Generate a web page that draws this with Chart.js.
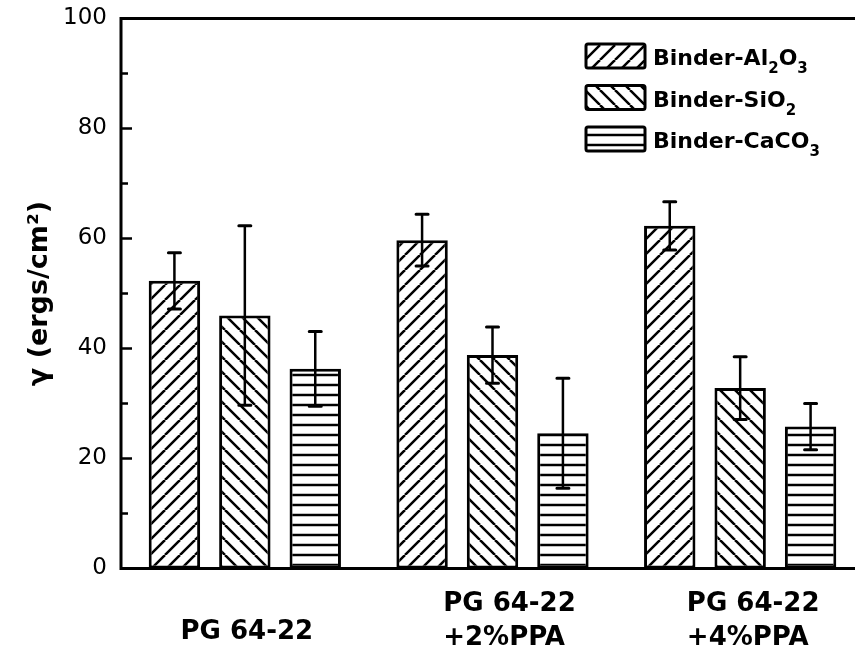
<!DOCTYPE html>
<html>
<head>
<meta charset="utf-8">
<script src="https://cdn.jsdelivr.net/npm/chart.js@4.4.1/dist/chart.umd.min.js"></script>
<style>
  html, body { margin: 0; padding: 0; background: #fff; overflow: hidden; }
  #wrap { position: relative; width: 866px; height: 662px; }
</style>
</head>
<body>
<div id="wrap"><canvas id="myChart"></canvas></div>
<script>
  // Categories (multi-line x labels)
  const categories = [['PG 64-22'], ['PG 64-22', '+2%PPA'], ['PG 64-22', '+4%PPA']];
  const seriesNames = ['Binder-Al2O3', 'Binder-SiO2', 'Binder-CaCO3'];

  // Surface energy values and their error bars
  const al2o3 = [52.3, 59.7, 62.3];
  const al2o3Err = [5.1, 4.7, 4.4];
  const sio2 = [46.0, 38.8, 32.8];
  const sio2Err = [16.3, 5.1, 5.7];
  const caco3 = [36.3, 24.6, 25.8];
  const caco3Err = [6.8, 10.0, 4.2];

  const yTicks = [0, 20, 40, 60, 80, 100];

  // legend text pieces: [text, isSubscript]
  const legendParts = [
    [['Binder-Al', 0], ['2', 1], ['O', 0], ['3', 1]],
    [['Binder-SiO', 0], ['2', 1]],
    [['Binder-CaCO', 0], ['3', 1]]
  ];

  // small horizontal nudges for the x label blocks
  const labelNudge = [2, 17, 13];

  const FONT = '"DejaVu Sans", Arial, sans-serif';

  /**
   * Build a black hatch pattern: '/', '\' or horizontal lines
   */
  const makePattern = (kind) => {
    const s = kind === 'h' ? 10 : 15;
    const c = document.createElement('canvas');
    c.width = s;
    c.height = s;
    const g = c.getContext('2d');
    g.fillStyle = '#fff';
    g.fillRect(0, 0, s, s);
    g.strokeStyle = '#000';
    g.lineWidth = 2.5;
    g.beginPath();
    if (kind === 'h') {
      g.moveTo(0, s / 2);
      g.lineTo(s, s / 2);
    } else {
      for (let k = -1; k <= 1; k++) {
        const x0 = k * s;
        if (kind === 'f') {
          g.moveTo(x0, s);
          g.lineTo(x0 + s, 0);
        } else {
          g.moveTo(x0, 0);
          g.lineTo(x0 + s, s);
        }
      }
    }
    g.stroke();
    return g.createPattern(c, 'repeat');
  };

  const patterns = [makePattern('f'), makePattern('b'), makePattern('h')];
  const errors = [al2o3Err, sio2Err, caco3Err];

  // Error bars on top of the bars
  const errorBarPlugin = {
    id: 'errorBars',
    afterDatasetsDraw(chart) {
      const { ctx } = chart;
      const y = chart.scales.y;
      ctx.save();
      ctx.strokeStyle = '#000';
      chart.data.datasets.forEach((ds, i) => {
        const meta = chart.getDatasetMeta(i);
        meta.data.forEach((bar, j) => {
          const v = ds.data[j];
          const e = errors[i][j];
          const yt = y.getPixelForValue(v + e);
          const yb = y.getPixelForValue(v - e);
          ctx.lineWidth = 2.5;
          ctx.beginPath();
          ctx.moveTo(bar.x, yt);
          ctx.lineTo(bar.x, yb);
          ctx.stroke();
          ctx.lineWidth = 3;
          ctx.lineCap = 'round';
          ctx.beginPath();
          ctx.moveTo(bar.x - 6, yt);
          ctx.lineTo(bar.x + 6, yt);
          ctx.moveTo(bar.x - 6, yb);
          ctx.lineTo(bar.x + 6, yb);
          ctx.stroke();
          ctx.lineCap = 'butt';
        });
      });
      ctx.restore();
    }
  };

  // Frame, inward ticks, x labels and legend
  const decorPlugin = {
    id: 'decor',
    afterDraw(chart) {
      const { ctx, chartArea: a } = chart;
      const y = chart.scales.y;
      const x = chart.scales.x;
      ctx.save();
      ctx.strokeStyle = '#000';
      ctx.lineWidth = 3;
      ctx.strokeRect(a.left, a.top, a.right - a.left, a.bottom - a.top);

      // inward ticks, minor every 10
      ctx.lineWidth = 2.5;
      ctx.beginPath();
      for (let v = 0; v <= 100; v += 10) {
        const py = y.getPixelForValue(v);
        const len = v % 20 === 0 ? 11 : 7;
        ctx.moveTo(a.left, py);
        ctx.lineTo(a.left + len, py);
      }
      ctx.stroke();

      // x labels
      ctx.fillStyle = '#000';
      ctx.font = 'bold 26px ' + FONT;
      ctx.textAlign = 'left';
      ctx.textBaseline = 'alphabetic';
      categories.forEach((lines, i) => {
        const px = x.getPixelForValue(i) + labelNudge[i];
        const w = Math.max(...lines.map(t => ctx.measureText(t).width));
        const left = px - w / 2;
        if (lines.length === 1) {
          ctx.fillText(lines[0], left, a.bottom + 70.5);
        } else {
          lines.forEach((t, k) => ctx.fillText(t, left, a.bottom + 42.5 + k * 34));
        }
      });

      // legend
      legendParts.forEach((parts, i) => {
        const by = 44 + i * 41.5;
        ctx.fillStyle = patterns[i];
        ctx.beginPath();
        ctx.roundRect(586, by, 59, 24, 2);
        ctx.fill();
        ctx.lineWidth = 3;
        ctx.stroke();
        let tx = 653;
        const base = by + 21;
        ctx.fillStyle = '#000';
        parts.forEach(([t, sub]) => {
          ctx.font = sub ? 'bold 15px ' + FONT : 'bold 22px ' + FONT;
          ctx.fillText(t, tx, sub ? base + 8 : base);
          tx += ctx.measureText(t).width;
        });
      });
      ctx.restore();
    }
  };

  const makeDataset = (i, values) => ({
    label: seriesNames[i],
    data: values,
    backgroundColor: patterns[i],
    borderColor: '#000',
    borderWidth: 3,
    borderSkipped: false,
    categoryPercentage: 0.853,
    barPercentage: 0.73
  });

  const canvas = document.getElementById('myChart');
  canvas.chart = new Chart(canvas, {
    type: 'bar',
    data: {
      labels: categories,
      datasets: [makeDataset(0, al2o3), makeDataset(1, sio2), makeDataset(2, caco3)]
    },
    options: {
      responsive: true,
      maintainAspectRatio: false,
      animation: false,
      layout: { padding: { top: 18.5, right: 2, left: 0, bottom: 0 } },
      plugins: {
        legend: { display: false },
        tooltip: { enabled: false }
      },
      scales: {
        x: {
          grid: { display: false, drawTicks: false },
          border: { display: false },
          ticks: { display: false },
          afterFit: (s) => { s.height = 93.5; }
        },
        y: {
          min: 0,
          max: 100,
          afterBuildTicks: (s) => { s.ticks = yTicks.map(v => ({ value: v })); },
          grid: { display: false, drawTicks: false },
          border: { display: false },
          ticks: {
            color: '#000',
            padding: 14,
            font: { family: FONT, size: 23 }
          },
          title: {
            display: true,
            text: 'γ (ergs/cm²)',
            color: '#000',
            font: { family: FONT, size: 27, weight: 'bold' },
            padding: { top: 24, bottom: 0 }
          },
          afterFit: (s) => {
            s.width = 121;
            s.paddingTop = 0;
            s.paddingBottom = 0;
          }
        }
      }
    },
    plugins: [errorBarPlugin, decorPlugin]
  });
</script>
</body>
</html>
